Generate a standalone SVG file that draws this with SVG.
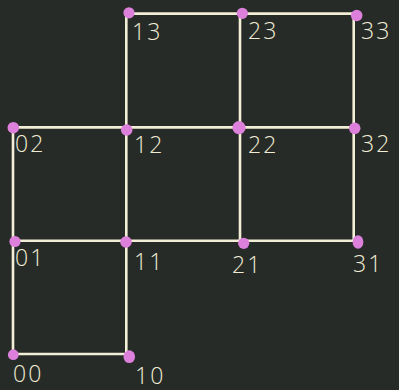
<svg xmlns="http://www.w3.org/2000/svg" width="399" height="390" viewBox="0 0 399 390">
<style>
.e{stroke:#f3efd6;stroke-width:2.6;stroke-linecap:square;fill:none}
.d{fill:#dd80dc}
.t{fill:#f1edd4;font-family:"Open Sans","DejaVu Sans",sans-serif;font-weight:300;font-size:23px;letter-spacing:2px}
</style>
<rect width="399" height="390" fill="#272b28"/>
<g id="connectors">
<line class="e" x1="126.3" y1="13.6" x2="240" y2="13.6"/>
<line class="e" x1="240" y1="13.6" x2="353.7" y2="13.6"/>
<line class="e" x1="13" y1="127.4" x2="126.3" y2="127.4"/>
<line class="e" x1="126.3" y1="127.4" x2="240" y2="127.4"/>
<line class="e" x1="240" y1="127.4" x2="353.7" y2="127.4"/>
<line class="e" x1="13" y1="240.7" x2="126.3" y2="240.7"/>
<line class="e" x1="126.3" y1="240.7" x2="240" y2="240.7"/>
<line class="e" x1="240" y1="240.7" x2="353.7" y2="240.7"/>
<line class="e" x1="13" y1="354" x2="126.3" y2="354"/>
<line class="e" x1="13" y1="127.4" x2="13" y2="240.7"/>
<line class="e" x1="13" y1="240.7" x2="13" y2="354"/>
<line class="e" x1="126.3" y1="13.6" x2="126.3" y2="127.4"/>
<line class="e" x1="126.3" y1="127.4" x2="126.3" y2="240.7"/>
<line class="e" x1="126.3" y1="240.7" x2="126.3" y2="354"/>
<line class="e" x1="240" y1="13.6" x2="240" y2="127.4"/>
<line class="e" x1="240" y1="127.4" x2="240" y2="240.7"/>
<line class="e" x1="353.7" y1="13.6" x2="353.7" y2="127.4"/>
<line class="e" x1="353.7" y1="127.4" x2="353.7" y2="240.7"/>
</g>
<g id="n13"><circle class="d" cx="129" cy="12.8" r="5.6"/><text class="t" x="132" y="40">13</text></g>
<g id="n23"><circle class="d" cx="242.3" cy="13.3" r="5.6"/><text class="t" x="248" y="39">23</text></g>
<g id="n33"><circle class="d" cx="356.7" cy="15.5" r="5.8"/><text class="t" x="361" y="39">33</text></g>
<g id="n02"><circle class="d" cx="13.3" cy="127.7" r="5.8"/><text class="t" x="15" y="152">02</text></g>
<g id="n12"><circle class="d" cx="126.7" cy="130" r="5.8"/><text class="t" x="134" y="153">12</text></g>
<g id="n22"><circle class="d" cx="239" cy="127.7" r="6.6"/><text class="t" x="248" y="153">22</text></g>
<g id="n32"><circle class="d" cx="354.7" cy="128.3" r="5.8"/><text class="t" x="361" y="152">32</text></g>
<g id="n01"><circle class="d" cx="15" cy="241.5" r="5.6"/><text class="t" x="15" y="266">01</text></g>
<g id="n11"><circle class="d" cx="126" cy="242" r="5.8"/><text class="t" x="134" y="270">11</text></g>
<g id="n21"><circle class="d" cx="243.7" cy="243.3" r="5.6"/><text class="t" x="232" y="273">21</text></g>
<g id="n31"><ellipse class="d" cx="358" cy="242" rx="5.4" ry="6.8"/><text class="t" x="353" y="272">31</text></g>
<g id="n00"><circle class="d" cx="13.3" cy="354.7" r="5.4"/><text class="t" x="13" y="382">00</text></g>
<g id="n10"><ellipse class="d" cx="129.3" cy="356.7" rx="5.8" ry="6.4"/><text class="t" x="135" y="384">10</text></g>
</svg>
